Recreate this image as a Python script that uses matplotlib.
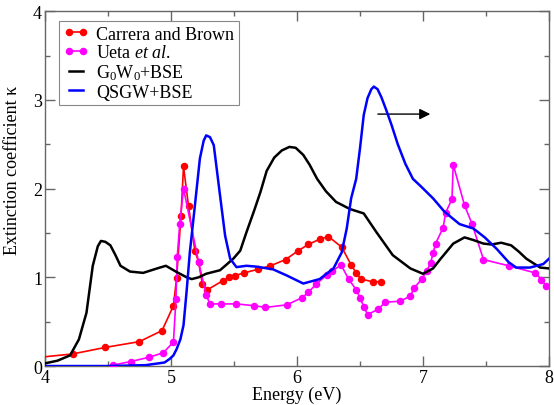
import matplotlib
matplotlib.use("Agg")
import matplotlib.pyplot as plt

plt.rcParams['font.family'] = ['Liberation Serif', 'DejaVu Serif']
plt.rcParams['mathtext.fontset'] = 'custom'
plt.rcParams['mathtext.rm'] = 'Liberation Serif'
plt.rcParams['mathtext.it'] = 'Liberation Serif:italic'

# Carrera and Brown (experiment)
cb_E = [3.90, 4.22, 4.48, 4.75, 4.93, 5.02, 5.045, 5.08, 5.10, 5.14, 5.19, 5.22, 5.25, 5.29,
        5.41, 5.46, 5.51, 5.58, 5.69, 5.79, 5.91, 6.01, 6.09, 6.18, 6.25, 6.355, 6.43, 6.47,
        6.51, 6.60, 6.67]
cb_k = [0.09, 0.136, 0.21, 0.275, 0.40, 0.68, 0.99, 1.69, 2.25, 1.80, 1.30, 1.17, 0.92, 0.86,
        0.96, 1.00, 1.02, 1.05, 1.09, 1.13, 1.20, 1.30, 1.37, 1.43, 1.46, 1.34, 1.14, 1.05,
        0.98, 0.95, 0.95]

# Ueta et al. (experiment)
ue_E = [4.54, 4.68, 4.83, 4.94, 5.02, 5.04, 5.05, 5.07, 5.10, 5.22, 5.28, 5.31, 5.40, 5.52,
        5.66, 5.75, 5.92, 6.04, 6.09, 6.15, 6.24, 6.28, 6.35, 6.41, 6.47, 6.50, 6.53, 6.56,
        6.645, 6.70, 6.82, 6.90, 6.93, 6.99, 7.03, 7.06, 7.08, 7.10, 7.16, 7.18, 7.23, 7.24,
        7.33, 7.39, 7.48, 7.68, 7.89, 7.94, 7.98, 8.05]
ue_k = [0.01, 0.05, 0.10, 0.15, 0.27, 0.75, 1.23, 1.60, 2.00, 1.17, 0.80, 0.70, 0.70, 0.70,
        0.68, 0.66, 0.69, 0.77, 0.83, 0.92, 1.03, 1.07, 1.14, 0.98, 0.86, 0.77, 0.67, 0.58,
        0.64, 0.72, 0.73, 0.79, 0.88, 0.98, 1.07, 1.16, 1.27, 1.38, 1.56, 1.73, 1.88, 2.27,
        1.81, 1.60, 1.20, 1.13, 1.05, 0.975, 0.90, 0.85]

# G0W0+BSE
g_E = [4.00, 4.10, 4.20, 4.27, 4.33, 4.38, 4.42, 4.445, 4.48, 4.52, 4.56, 4.60, 4.675, 4.78,
       4.89, 4.96, 5.045, 5.125, 5.165, 5.22, 5.28, 5.39, 5.495, 5.55, 5.60, 5.66, 5.71, 5.76,
       5.82, 5.88, 5.94, 5.99, 6.05, 6.10, 6.16, 6.23, 6.31, 6.42, 6.53, 6.63, 6.76, 6.90,
       7.00, 7.08, 7.135, 7.24, 7.33, 7.40, 7.48, 7.545, 7.62, 7.70, 7.76, 7.82, 7.93, 8.00]
g_k = [0.03, 0.06, 0.12, 0.30, 0.60, 1.13, 1.35, 1.41, 1.40, 1.36, 1.25, 1.13, 1.065, 1.05,
       1.10, 1.13, 1.06, 1.00, 0.98, 1.00, 1.04, 1.08, 1.21, 1.30, 1.51, 1.75, 1.96, 2.20,
       2.35, 2.43, 2.47, 2.46, 2.38, 2.27, 2.11, 1.97, 1.85, 1.77, 1.72, 1.51, 1.25, 1.10,
       1.04, 1.10, 1.20, 1.38, 1.45, 1.42, 1.38, 1.37, 1.39, 1.36, 1.29, 1.21, 1.11, 1.10]

# QSGW+BSE
q_E = [4.00, 4.50, 4.80, 4.95, 4.99, 5.02, 5.045, 5.075, 5.10, 5.125, 5.15, 5.185, 5.23,
       5.26, 5.28, 5.31, 5.34, 5.39, 5.43, 5.47, 5.52, 5.60, 5.68, 5.81, 5.92, 6.05, 6.18,
       6.29, 6.355, 6.395, 6.43, 6.47, 6.50, 6.53, 6.56, 6.59, 6.61, 6.64, 6.67, 6.71, 6.75,
       6.80, 6.86, 6.92, 6.98, 7.08, 7.17, 7.29, 7.40, 7.49, 7.585, 7.68, 7.74, 7.85, 7.955, 8.00]
q_k = [0.00, 0.00, 0.01, 0.04, 0.08, 0.12, 0.19, 0.30, 0.46, 0.85, 1.28, 1.74, 2.34,
       2.54, 2.60, 2.58, 2.49, 1.92, 1.47, 1.21, 1.115, 1.13, 1.12, 1.09, 1.02, 0.93, 0.98,
       1.10, 1.28, 1.55, 1.89, 2.11, 2.45, 2.83, 3.02, 3.12, 3.15, 3.12, 3.03, 2.88, 2.72,
       2.50, 2.28, 2.11, 2.03, 1.89, 1.74, 1.60, 1.55, 1.45, 1.32, 1.17, 1.11, 1.11, 1.15, 1.21]

fig = plt.figure(figsize=(5.54, 4.06), dpi=100)
ax = fig.add_axes([0.081, 0.096, 0.910, 0.874])

ax.plot(cb_E, cb_k, color='#ff0000', lw=1.2, marker='o', ms=4.4, label='Carrera and Brown', zorder=3)
ax.plot(ue_E, ue_k, color='#ff00ff', lw=1.2, marker='o', ms=4.4, label='Ueta $\\mathit{et\\ al.}$', zorder=3)
ax.plot(g_E, g_k, color='black', lw=1.8, label='G$_0$W$_0$+BSE', zorder=4)
ax.plot(q_E, q_k, color='#0000ff', lw=1.8, label='QSGW+BSE', zorder=4)

ax.annotate('', xy=(7.08, 2.84), xytext=(6.62, 2.84),
            arrowprops=dict(arrowstyle='-|>', color='black', lw=1.0, mutation_scale=16))

ax.set_xlim(4, 8)
ax.set_ylim(0, 4)
ax.set_xticks([4, 5, 6, 7, 8])
ax.set_yticks([0, 1, 2, 3, 4])
ax.set_xticks([4.5, 5.5, 6.5, 7.5], minor=True)
ax.set_yticks([0.5, 1.5, 2.5, 3.5], minor=True)
ax.tick_params(which='both', direction='in', top=True, right=True, color='#666666',
               labelsize=13, pad=2)
ax.tick_params(which='major', length=7, width=1)
ax.tick_params(which='minor', length=3.5, width=1)
for s in ax.spines.values():
    s.set_color('#666666')
    s.set_linewidth(1.0)

ax.set_xlabel('Energy (eV)', fontsize=13, labelpad=0)
ax.set_ylabel('Extinction coefficient κ', fontsize=13)
ax.yaxis.set_label_coords(-0.048, 0.555)

leg = ax.legend(loc='upper left', bbox_to_anchor=(0.028, 0.972), borderaxespad=0,
                fontsize=13, frameon=True, fancybox=False, framealpha=1,
                edgecolor='#888888', numpoints=2, handlelength=1.4, handletextpad=0.4,
                labelspacing=0.08, borderpad=0.25)
leg.get_frame().set_linewidth(0.8)

fig.savefig('out.png', dpi=100)
